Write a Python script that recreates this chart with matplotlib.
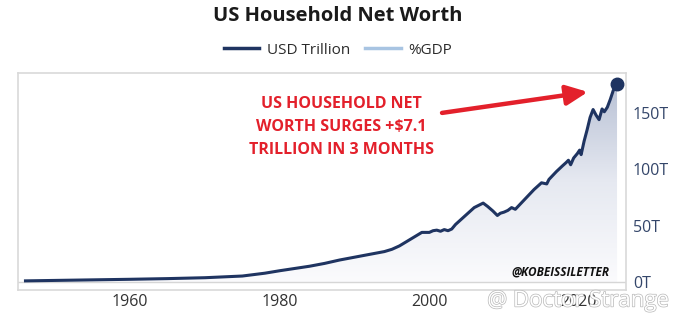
import numpy as np
import matplotlib
matplotlib.use("Agg")
import matplotlib.pyplot as plt
from matplotlib.lines import Line2D
from matplotlib.patches import Polygon
import matplotlib.patheffects as pe

plt.rcParams['font.family'] = ['Open Sans', 'DejaVu Sans']

# household net worth, USD trillion
years = [1946.0, 1950, 1955, 1960, 1965, 1970, 1975, 1978, 1980, 1982, 1984,
         1986, 1988, 1990, 1992, 1994, 1995, 1996, 1997, 1998, 1999,
         2000.0, 2000.5, 2001.0, 2001.5, 2002.0, 2002.5, 2003.0, 2003.5,
         2004.0, 2005.0, 2006.0, 2007.2, 2007.8, 2008.5, 2009.1, 2009.5,
         2010.0, 2010.5, 2011.0, 2011.5, 2012.0, 2013.0, 2014.0, 2015.0,
         2015.7, 2016.0, 2017.0, 2017.8, 2018.3, 2018.6, 2018.9, 2019.3,
         2019.8, 2020.1, 2020.3, 2020.7, 2021.1, 2021.5, 2021.9, 2022.3,
         2022.7, 2023.1, 2023.4, 2023.8, 2024.2, 2024.6, 2025.1]
net_worth = [1.0, 1.4, 1.9, 2.4, 3.0, 3.8, 5.3, 7.8, 10.0, 12.0, 14.0,
             16.5, 19.5, 22.0, 24.5, 27.0, 29.0, 32.0, 36.0, 40.0, 44.0,
             44.0, 45.5, 46.0, 45.0, 46.5, 45.5, 47.0, 51.0,
             54.0, 60.0, 66.0, 70.0, 67.0, 63.0, 59.0, 61.0,
             62.0, 63.5, 66.0, 64.5, 68.0, 75.0, 82.0, 88.0,
             87.0, 91.0, 98.0, 103.0, 106.0, 108.0, 104.0, 110.0,
             114.0, 117.0, 113.0, 125.0, 135.0, 146.0, 153.0, 148.0,
             144.0, 153.5, 151.0, 155.0, 162.0, 170.0, 175.5]

x_ticks = [1960, 1980, 2000, 2020]
y_ticks = [0, 50, 100, 150]
y_labels = ["0T", "50T", "100T", "150T"]

navy = "#1f3461"
red = "#e3202b"

fig = plt.figure(figsize=(6.76, 3.26), dpi=100)
ax = fig.add_axes([18 / 676, 1 - 290 / 326, 608 / 676, 217 / 326])

ax.set_xlim(1945.0, 2026.3)
ax.set_ylim(-7.1, 185.4)

# gradient fill under the line
grad = np.linspace(0, 1, 256).reshape(-1, 1)
cmap = matplotlib.colors.LinearSegmentedColormap.from_list(
    "fill", ["#fbfbfd", "#e6e9f1", "#b7c0d4"])
img = ax.imshow(grad, cmap=cmap, aspect="auto", origin="lower",
                extent=[1945.0, 2026.3, 0, 178], zorder=1)
verts = list(zip(years, net_worth)) + [(years[-1], 0), (years[0], 0)]
poly = Polygon(verts, closed=True, facecolor="none", edgecolor="none")
ax.add_patch(poly)
img.set_clip_path(poly)

ax.axhline(0, color="#d6d6d6", lw=1, zorder=2)
ax.plot(years, net_worth, color=navy, lw=2.2, zorder=3,
        solid_joinstyle="round")
ax.plot(years[-1], net_worth[-1], "o", color=navy, ms=9, zorder=4)

for s in ax.spines.values():
    s.set_color("#d9d9d9")
    s.set_linewidth(1.2)

ax.yaxis.tick_right()
ax.set_yticks(y_ticks)
ax.set_yticklabels(y_labels)
ax.set_xticks(x_ticks)
ax.tick_params(axis="both", length=0, labelsize=11.5, colors="#34466a")
ax.tick_params(axis="y", pad=5)
ax.tick_params(axis="x", pad=3, colors="#333333")

# title and legend
fig.text(0.5, 1 - 16 / 326, "US Household Net Worth", ha="center",
         va="center", fontsize=14.5, fontweight="bold", color="#1a1a1a")
handles = [Line2D([], [], color=navy, lw=2.5),
           Line2D([], [], color="#a8c4e2", lw=2.5)]
fig.legend(handles, ["USD Trillion", "%GDP"], loc="center",
           bbox_to_anchor=(0.5, 1 - 50 / 326), ncol=2, frameon=False,
           fontsize=11, handlelength=2.3, handletextpad=0.5,
           columnspacing=1.0, labelcolor="#2b2b2b")

# annotation
ax.text(1988.2, 137.5, "US HOUSEHOLD NET\nWORTH SURGES +$7.1\nTRILLION IN 3 MONTHS",
        ha="center", va="center", fontsize=11.5, fontweight="bold",
        color=red, linespacing=1.6, zorder=5)
ax.annotate("", xy=(2021.2, 168.6), xytext=(2001.7, 150),
            arrowprops=dict(arrowstyle="-|>,head_length=1.3,head_width=0.6",
                            color=red, lw=3.2, shrinkA=0, shrinkB=0),
            zorder=5)

ax.text(2024.1, 9, "@KOBEISSILETTER", ha="right", va="center",
        fontsize=8.5, fontweight="bold", fontstyle="italic",
        color="#111111", zorder=5)

# watermark
fig.text(0.99, 1 - 301 / 326, "@ Doctor Strange", ha="right", va="center",
         fontsize=16, color="white", zorder=10,
         path_effects=[pe.withStroke(linewidth=1.0, foreground="#b8b8b8")])

fig.savefig("out.png", dpi=100)
